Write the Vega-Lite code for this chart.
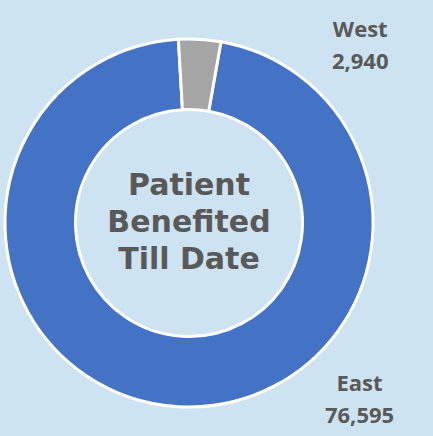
{
  "$schema": "https://vega.github.io/schema/vega-lite/v6.json",
  "width": 378,
  "height": 426,
  "autosize": "none",
  "padding": {"left": 0, "top": 10, "right": 55, "bottom": 0},
  "background": "#cee3f1",
  "config": {"view": {"stroke": null}},
  "data": {"values": [{"region": "East", "value": 76595}, {"region": "West", "value": 2940}]},
  "layer": [
    {
      "mark": {"type": "arc", "outerRadius": 184, "innerRadius": 113.5, "stroke": "white", "strokeWidth": 3},
      "encoding": {
        "theta": {"field": "value", "type": "quantitative", "stack": true, "scale": {"range": [0.1745, 6.4577]}},
        "color": {"field": "region", "type": "nominal", "scale": {"domain": ["East", "West"], "range": ["#4472C4", "#A5A5A5"]}, "legend": null}
      }
    },
    {
      "transform": [{"calculate": "datum.region + '\\n' + format(datum.value, ',')", "as": "label"}],
      "mark": {"type": "text", "radius": 246, "lineBreak": "\n", "font": "Open Sans", "fontSize": 22, "fontWeight": "bold", "color": "#595959", "lineHeight": 32, "baseline": "middle", "dy": -16},
      "encoding": {
        "theta": {"field": "value", "type": "quantitative", "stack": true, "scale": {"range": [-2.129, 7.226]}},
        "detail": {"field": "region", "type": "nominal"},
        "text": {"field": "label", "type": "nominal"}
      }
    },
    {
      "data": {"values": [{"title": "Patient Benefited Till Date"}]},
      "mark": {"type": "text", "text": ["Patient", "Benefited", "Till Date"], "font": "DejaVu Sans", "fontWeight": "bold", "fontSize": 30, "color": "#595959", "lineHeight": 37, "baseline": "middle", "dy": -37},
      "encoding": {}
    }
  ],
  "resolve": {"scale": {"theta": "independent"}}
}
